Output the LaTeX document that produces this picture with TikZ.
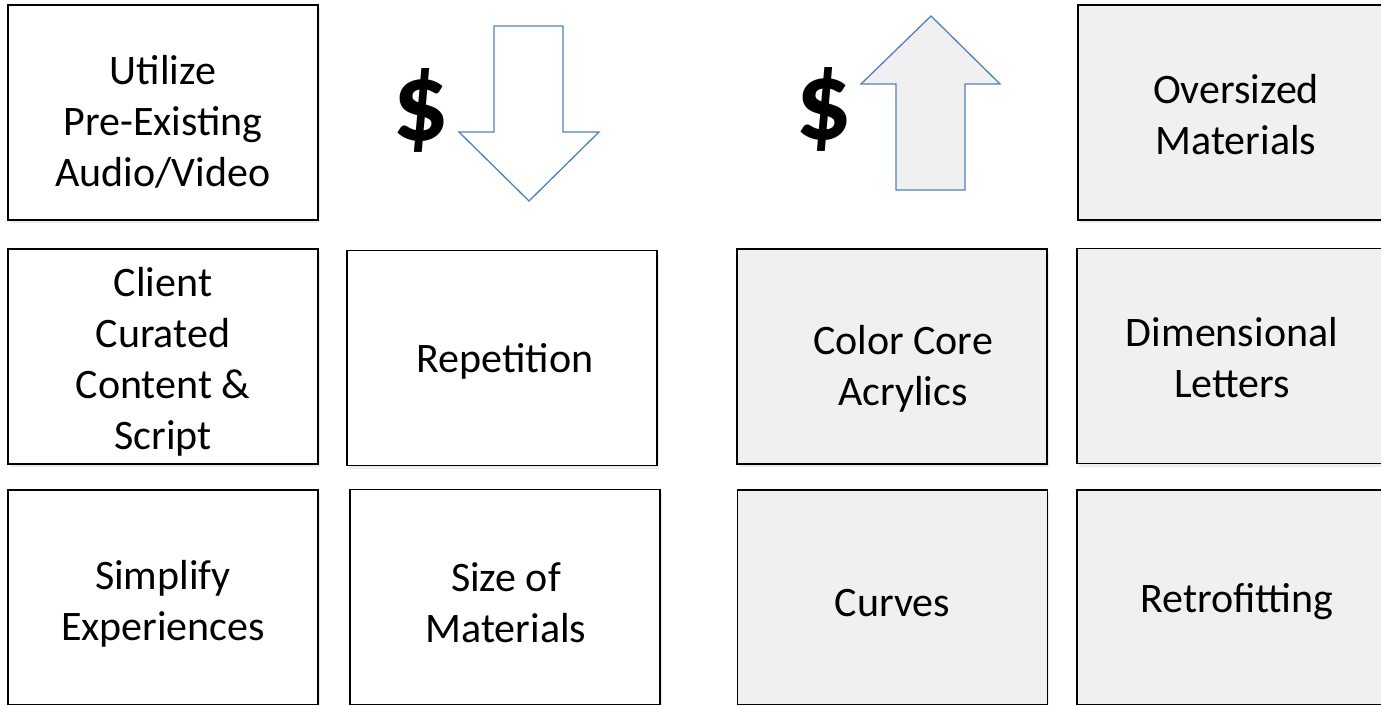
\documentclass[tikz,border=0pt]{standalone}
\usepackage{fontspec}
\setmainfont{Carlito}
\usetikzlibrary{shadows}
\definecolor{arrowblue}{HTML}{4F81BD}
\definecolor{lightgray}{HTML}{F0F0F0}
\tikzset{
  box/.style={draw, line width=0.75pt, minimum width=155pt, minimum height=107.5pt,
    inner sep=0pt, fill=white,
    drop shadow={shadow xshift=0.8pt, shadow yshift=-1.5pt, opacity=0.15}},
  graybox/.style={box, fill=lightgray},
  boxtext/.style={align=center, inner sep=0pt, font=\fontsize{21}{25.5}\selectfont},
  dollar/.style={font=\fontsize{56}{60}\selectfont\bfseries, inner sep=0pt},
  bigarrow/.style={draw=arrowblue, line width=0.65pt, line join=miter}
}
\begin{document}
\begin{tikzpicture}[x=0.5pt, y=-0.5pt]
\useasboundingbox (0,0) rectangle (1381,705);
\clip (0,0) rectangle (1381,705);
% cheaper side
\node[box] (utilize) at (163,112.5) {};
\node[box] (client) at (163,356.5) {};
\node[box] (simplify) at (163,597.5) {};
\node[box] (repetition) at (502,358) {};
\node[box] (size) at (505,597) {};
\node[boxtext] (utilize-t) at (163,121.5) {Utilize\\Pre-Existing\\Audio/Video};
\node[boxtext] (client-t) at (163,361.5) {Client\\Curated\\Content \&\\Script};
\node[boxtext] (simplify-t) at (163,603.5) {Simplify\\Experiences};
\node[boxtext] (repetition-t) at (505,361) {Repetition};
\node[boxtext] (size-t) at (506,602.5) {Size of\\Materials};
\node[dollar] (down) at (421,110) {\$};
\draw[bigarrow, fill=white] (494,26) -- (563,26) -- (563,132) -- (599,132) -- (529,201) -- (459,132) -- (494,132) -- cycle;
% costlier side
\node[dollar] (up) at (824,109) {\$};
\draw[bigarrow, fill=lightgray] (931,16) -- (1000,84) -- (965,84) -- (965,190) -- (896,190) -- (896,84) -- (861,84) -- cycle;
\node[graybox] (oversized) at (1233,112.5) {};
\node[graybox] (colorcore) at (892,356.5) {};
\node[graybox] (dimensional) at (1232,356) {};
\node[graybox] (curves) at (892.5,597.5) {};
\node[graybox] (retro) at (1232,597.5) {};
\node[boxtext] (oversized-t) at (1236,114.5) {Oversized\\Materials};
\node[boxtext] (colorcore-t) at (903,368.5) {Color Core\\Acrylics};
\node[boxtext] (dimensional-t) at (1232,358) {Dimensional\\Letters};
\node[boxtext] (curves-t) at (892.5,603.5) {Curves};
\node[boxtext] (retro-t) at (1237,601.5) {Retrofitting};
\end{tikzpicture}
\end{document}
